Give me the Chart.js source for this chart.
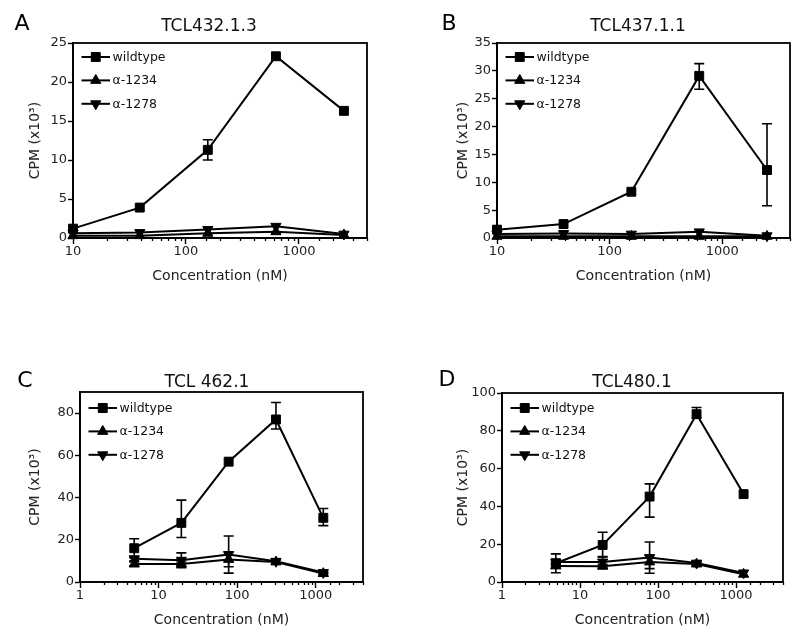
<!DOCTYPE html>
<html><head><meta charset="utf-8">
<script src="https://cdn.jsdelivr.net/npm/chart.js@4.4.1/dist/chart.umd.min.js"></script>
<style>
html,body{margin:0;padding:0;background:#fff;width:800px;height:637px;overflow:hidden}
.p{position:absolute}
canvas{display:block}
</style></head><body>
<div class="p" style="left:0;top:0"><canvas id="cA" width="400" height="310"></canvas></div>
<div class="p" style="left:400px;top:0"><canvas id="cB" width="400" height="310"></canvas></div>
<div class="p" style="left:0;top:318px"><canvas id="cC" width="400" height="319"></canvas></div>
<div class="p" style="left:400px;top:318px"><canvas id="cD" width="400" height="319"></canvas></div>
<script>
// ---- data ----
const seriesNames = ['wildtype', 'α-1234', 'α-1278'];
const xTop = [10, 39, 156, 625, 2500];          // concentration (nM), panels A,B
const xBottom = [4.9, 19.5, 78, 312, 1250];     // concentration (nM), panels C,D
const xTickLabels = [1, 10, 100, 1000];

// Panel A  TCL432.1.3  (CPM x10^3)
const A_wt    = [1.2, 3.9, 11.3, 23.3, 16.3];
const A_wtErr = [null, null, [1.3, 1.3], null, null];
const A_a1234 = [0.3, 0.3, 0.6, 0.8, 0.4];
const A_a1278 = [0.6, 0.7, 1.1, 1.5, 0.5];

// Panel B  TCL437.1.1
const B_wt    = [1.5, 2.5, 8.3, 29.1, 12.2];
const B_wtErr = [null, null, null, [2.4, 2.2], [6.4, 8.3]];
const B_a1234 = [0.3, 0.3, 0.3, 0.3, 0.3];
const B_a1278 = [0.7, 0.8, 0.7, 1.1, 0.4];

// Panel C  TCL 462.1
const C_wt       = [16.0, 28.0, 57.0, 77.0, 30.4];
const C_wtErr    = [[4.5, 4.5], [6.9, 10.8], null, [4.5, 8.0], [3.7, 4.4]];
const C_a1234    = [8.5, 8.5, 10.7, 9.5, 4.0];
const C_a1234Err = [[1, 1], [1, 1], [3.5, 3.5], [1, 1], [0.5, 0.5]];
const C_a1278    = [11.0, 10.3, 13.0, 9.8, 4.5];
const C_a1278Err = [[1, 1], [3.5, 3.5], [8.8, 8.8], [1, 1], [0.5, 0.5]];

// Panel D  TCL480.1
const D_wt       = [9.9, 19.6, 45.2, 88.8, 46.5];
const D_wtErr    = [[5, 5], [6.2, 6.7], [10.9, 6.7], [2, 3.5], null];
const D_a1234    = [8.5, 8.3, 10.6, 9.5, 4.1];
const D_a1234Err = [[1, 1], [1, 1], [3.5, 3.5], [1, 1], null];
const D_a1278    = [10.6, 10.6, 12.9, 10.0, 4.8];
const D_a1278Err = [[1, 1], [2.6, 2.6], [8.3, 8.3], [1, 1], null];

// ---- rendering ----
const FONT = "'DejaVu Sans', 'Liberation Sans', Arial, sans-serif";
Chart.defaults.font.family = FONT;
Chart.defaults.color = '#222';
const styles = [
  {pointStyle: 'rect', radius: 6.3, rotation: 0},
  {pointStyle: 'triangle', radius: 5.9, rotation: 0},
  {pointStyle: 'triangle', radius: 5.9, rotation: 180}
];
const isPow10 = v => v > 0 && Math.abs(Math.log10(v) - Math.round(Math.log10(v))) < 1e-9;

function marker(ctx, st, x, y) {
  const r = st.radius;
  ctx.beginPath();
  if (st.pointStyle === 'rect') {
    const s = Math.SQRT1_2 * r;
    ctx.rect(x - s, y - s, 2 * s, 2 * s);
  } else {
    let rad = st.rotation * Math.PI / 180;
    for (let k = 0; k < 3; k++) {
      const px = x + Math.sin(rad) * r, py = y - Math.cos(rad) * r;
      if (k === 0) ctx.moveTo(px, py); else ctx.lineTo(px, py);
      rad += 2 * Math.PI / 3;
    }
    ctx.closePath();
  }
  ctx.fill();
  ctx.stroke();
}

function makePanel(id, cfg) {
  const datasets = cfg.series.map((s, i) => ({
    label: seriesNames[i],
    data: cfg.xs.map((x, j) => ({x: x, y: s[j]})),
    borderColor: '#000', backgroundColor: '#000',
    borderWidth: 2,
    pointStyle: styles[i].pointStyle,
    pointRotation: styles[i].rotation,
    pointRadius: styles[i].radius,
    pointHoverRadius: styles[i].radius,
    pointBackgroundColor: '#000', pointBorderColor: '#000', pointBorderWidth: 1,
    tension: 0, clip: false, order: 3 - i
  }));
  const extras = {
    id: 'extras',
    beforeDatasetsDraw(chart) {
      const ctx = chart.ctx, a = chart.chartArea;
      ctx.save();
      ctx.strokeStyle = '#000'; ctx.lineWidth = 1.8;
      ctx.strokeRect(a.left, a.top, a.right - a.left, a.bottom - a.top);
      // minor ticks on the log axis
      const xs = chart.scales.x;
      ctx.lineWidth = 1.3;
      xs.ticks.forEach(t => {
        if (isPow10(t.value)) return;
        const px = Math.round(xs.getPixelForValue(t.value)) + 0.5;
        ctx.beginPath(); ctx.moveTo(px, a.bottom); ctx.lineTo(px, a.bottom + 3); ctx.stroke();
      });
      ctx.restore();
    },
    afterDatasetsDraw(chart) {
      const ctx = chart.ctx, a = chart.chartArea;
      const xs = chart.scales.x, ys = chart.scales.y;
      ctx.save();
      ctx.strokeStyle = '#000'; ctx.lineWidth = 1.6;
      cfg.errs.forEach((err, si) => {
        if (!err) return;
        err.forEach((e, j) => {
          if (!e) return;
          const v = cfg.series[si][j];
          const px = xs.getPixelForValue(cfg.xs[j]);
          const yl = ys.getPixelForValue(v - e[0]);
          const yh = ys.getPixelForValue(v + e[1]);
          ctx.beginPath();
          ctx.moveTo(px, yl); ctx.lineTo(px, yh);
          ctx.moveTo(px - 5, yl); ctx.lineTo(px + 5, yl);
          ctx.moveTo(px - 5, yh); ctx.lineTo(px + 5, yh);
          ctx.stroke();
        });
      });
      // legend
      ctx.fillStyle = '#000';
      ctx.font = '12.5px ' + FONT;
      ctx.textBaseline = 'middle';
      ctx.textAlign = 'left';
      seriesNames.forEach((name, i) => {
        const y = a.top + cfg.legDY + i * 23.4;
        const x0 = a.left + 8.5, x1 = a.left + 37;
        ctx.lineWidth = 2;
        ctx.beginPath(); ctx.moveTo(x0, y); ctx.lineTo(x1, y); ctx.stroke();
        ctx.lineWidth = 1;
        marker(ctx, styles[i], (x0 + x1) / 2, y);
        ctx.fillStyle = '#111';
        ctx.fillText(name, a.left + 39.5, y + 0.5);
        ctx.fillStyle = '#000';
      });
      // panel letter and title
      ctx.textAlign = 'center';
      ctx.fillStyle = '#000';
      ctx.font = '22px ' + FONT;
      ctx.fillText(cfg.letter, cfg.letterX, cfg.letterY);
      ctx.font = '17px ' + FONT;
      ctx.fillStyle = '#111';
      ctx.fillText(cfg.title, cfg.titleX, cfg.titleY);
      ctx.restore();
    }
  };
  return new Chart(document.getElementById(id), {
    type: 'line',
    data: {datasets},
    plugins: [extras],
    options: {
      responsive: false, animation: false,
      layout: {padding: cfg.pad},
      plugins: {legend: {display: false}, tooltip: {enabled: false}, title: {display: false}},
      scales: {
        x: {
          type: 'logarithmic', position: 'bottom', min: cfg.xMin, max: cfg.xMax,
          afterFit: s => { s.height = cfg.xH; },
          border: {display: true, color: '#000', width: 1.8},
          grid: {drawOnChartArea: false, drawTicks: true, tickLength: 6, tickWidth: 1.4,
                 tickColor: c => (c.tick && isPow10(c.tick.value)) ? '#000' : 'rgba(0,0,0,0)'},
          ticks: {autoSkip: false, maxRotation: 0, minRotation: 0, padding: 0, color: '#222',
                  font: {size: 13},
                  callback: v => xTickLabels.includes(Math.round(v)) && isPow10(v) ? String(Math.round(v)) : ''},
          title: {display: true, text: 'Concentration (nM)', color: '#222', font: {size: 14},
                  padding: {top: 0, bottom: cfg.xTitlePad}}
        },
        y: {
          type: 'linear', position: 'left', min: 0, max: cfg.yMax,
          afterFit: s => { s.width = cfg.yW; },
          border: {display: true, color: '#000', width: 1.8},
          grid: {drawOnChartArea: false, drawTicks: true, tickLength: 5, tickWidth: 1.4, tickColor: '#000'},
          ticks: {stepSize: cfg.yStep, includeBounds: false, padding: 1, color: '#222', font: {size: 13}},
          title: {display: true, text: 'CPM (x10³)', color: '#222', font: {size: 14},
                  padding: {top: cfg.yTitlePad, bottom: 0}}
        }
      }
    }
  });
}

makePanel('cA', {
  letter: 'A', letterX: 22, letterY: 24, title: 'TCL432.1.3', titleX: 209, titleY: 27,
  xs: xTop, xMin: 10, xMax: 4000, yMax: 25, yStep: 5,
  series: [A_wt, A_a1234, A_a1278], errs: [A_wtErr, null, null],
  pad: {left: 0, top: 43, right: 33, bottom: 0}, yW: 73, xH: 72,
  yTitlePad: 26.6, xTitlePad: 25.6, legDY: 14
});
makePanel('cB', {
  letter: 'B', letterX: 49, letterY: 24, title: 'TCL437.1.1', titleX: 238, titleY: 27,
  xs: xTop, xMin: 10, xMax: 4000, yMax: 35, yStep: 5,
  series: [B_wt, B_a1234, B_a1278], errs: [B_wtErr, null, null],
  pad: {left: 0, top: 43, right: 10, bottom: 0}, yW: 97, xH: 72,
  yTitlePad: 54.6, xTitlePad: 25.6, legDY: 14
});
makePanel('cC', {
  letter: 'C', letterX: 25, letterY: 63, title: 'TCL 462.1', titleX: 207, titleY: 65,
  xs: xBottom, xMin: 1, xMax: 4000, yMax: 90, yStep: 20,
  series: [C_wt, C_a1234, C_a1278], errs: [C_wtErr, C_a1234Err, C_a1278Err],
  pad: {left: 0, top: 74, right: 37, bottom: 0}, yW: 80, xH: 55,
  yTitlePad: 26.6, xTitlePad: 8.6, legDY: 16
});
makePanel('cD', {
  letter: 'D', letterX: 47, letterY: 62, title: 'TCL480.1', titleX: 232, titleY: 65,
  xs: xBottom, xMin: 1, xMax: 4000, yMax: 100, yStep: 20,
  series: [D_wt, D_a1234, D_a1278], errs: [D_wtErr, D_a1234Err, D_a1278Err],
  pad: {left: 0, top: 75, right: 17, bottom: 0}, yW: 102, xH: 55,
  yTitlePad: 54.6, xTitlePad: 8.6, legDY: 15
});
</script>
</body></html>
